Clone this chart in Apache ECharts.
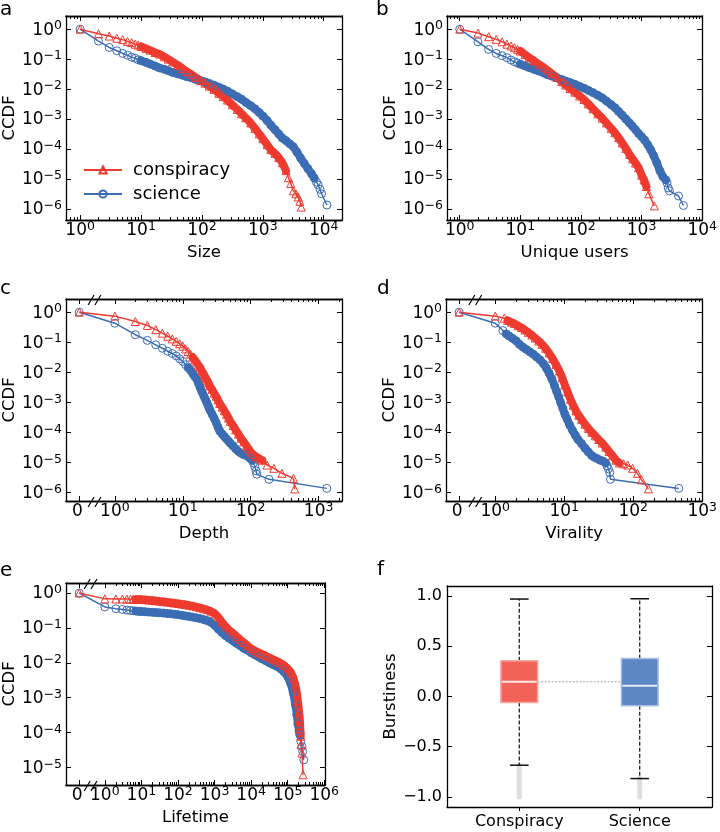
<!DOCTYPE html>
<html><head><meta charset="utf-8">
<script src="https://cdn.jsdelivr.net/npm/echarts@6/dist/echarts.min.js"></script>
<style>html,body{margin:0;padding:0;background:#fff}#c{width:720px;height:832px}</style>
</head><body><div id="c"></div>
<script>
// ---------- data (value, CCDF) ----------
const sizeConspiracy = [[1,1],[2,0.70],[3,0.59],[4,0.50],[5,0.447],[6,0.39],[7,0.355],[8,0.316],[9,0.295],[10,0.265],[12,0.229],[14,0.20],[17,0.166],[20,0.148],[24,0.12],[28,0.10],[33,0.081],[40,0.063],[48,0.049],[56,0.039],[66,0.0316],[79,0.0245],[95,0.0195],[112,0.0158],[132,0.0126],[158,0.0098],[190,0.0072],[224,0.0056],[263,0.0043],[316,0.0030],[380,0.0021],[447,0.0015],[525,0.0011],[631,7.4e-4],[741,4.9e-4],[871,3.2e-4],[1000,2.2e-4],[1175,1.4e-4],[1350,9.5e-5],[1585,7.1e-5],[1820,5.2e-5],[2090,3.5e-5],[2400,1.9e-5],[2630,1.1e-5],[2880,7.1e-6],[3160,4.0e-6],[3470,3.2e-6],[3800,2.5e-6],[4070,1.8e-6],[4270,1.15e-6]];
const sizeScience = [[1,1],[2,0.40],[3,0.245],[4,0.19],[5,0.155],[6,0.135],[7,0.117],[8,0.107],[9,0.095],[10,0.089],[12,0.078],[14,0.069],[17,0.059],[20,0.051],[24,0.046],[28,0.041],[33,0.036],[40,0.032],[48,0.029],[56,0.026],[66,0.024],[79,0.021],[95,0.019],[112,0.0174],[132,0.0155],[158,0.0135],[190,0.0115],[224,0.010],[263,0.0085],[316,0.0069],[380,0.0056],[447,0.0046],[525,0.0036],[631,0.0028],[741,0.0022],[871,0.00166],[1000,0.00126],[1175,8.9e-4],[1350,6.3e-4],[1585,4.4e-4],[1820,3.2e-4],[2090,2.3e-4],[2400,1.9e-4],[2750,1.5e-4],[3160,1.2e-4],[3630,7.9e-5],[4170,5.0e-5],[4790,3.3e-5],[5500,2.2e-5],[6300,1.5e-5],[7000,1.07e-5],[7600,7.9e-6],[8100,6.3e-6],[8700,4.5e-6],[9200,3.2e-6],[11300,1.35e-6]];
const usersConspiracy = [[1,1],[2,0.74],[3,0.56],[4,0.457],[5,0.38],[6,0.316],[7,0.275],[8,0.24],[9,0.211],[10,0.186],[12,0.141],[14,0.112],[17,0.087],[20,0.069],[24,0.054],[28,0.043],[33,0.033],[40,0.0245],[48,0.0178],[56,0.0138],[66,0.0105],[79,0.0079],[95,0.0059],[112,0.0045],[132,0.0032],[158,0.0022],[190,0.0015],[224,0.00107],[263,7.4e-4],[316,4.9e-4],[363,3.5e-4],[417,2.4e-4],[479,1.6e-4],[550,1.05e-4],[631,6.6e-5],[708,4.7e-5],[794,3.4e-5],[891,2.4e-5],[1000,1.35e-5],[1096,9.3e-6],[1202,5.6e-6],[1318,3.2e-6],[1622,1.26e-6]];
const usersScience = [[1,1],[2,0.38],[3,0.211],[4,0.155],[5,0.13],[6,0.112],[7,0.093],[8,0.082],[9,0.074],[10,0.068],[12,0.059],[14,0.052],[17,0.045],[20,0.040],[24,0.035],[28,0.030],[33,0.027],[40,0.024],[48,0.021],[56,0.0186],[66,0.0166],[79,0.0145],[95,0.0123],[112,0.0107],[132,0.0091],[158,0.0076],[190,0.0062],[224,0.0051],[263,0.0040],[316,0.0030],[363,0.0024],[417,0.0018],[479,0.00135],[550,0.0010],[631,7.4e-4],[708,5.75e-4],[794,4.4e-4],[891,3.3e-4],[1000,2.6e-4],[1120,2.0e-4],[1260,1.4e-4],[1410,9.5e-5],[1585,6.0e-5],[1780,3.5e-5],[2000,1.9e-5],[2240,1.2e-5],[2510,9.3e-6],[2630,7.4e-6],[2750,5.0e-6],[2880,4.0e-6],[4070,2.7e-6],[4900,1.3e-6]];
const depthConspiracy = [[0,1],[1,0.74],[2,0.49],[3,0.363],[4,0.263],[5,0.20],[6,0.158],[7,0.129],[8,0.107],[9,0.089],[10,0.074],[11,0.060],[12,0.049],[13,0.040],[14,0.032],[15,0.026],[16,0.0224],[17,0.0174],[18,0.0145],[19,0.0112],[20,0.0093],[21,0.0076],[22,0.0063],[23,0.0052],[24,0.0044],[25,0.0035],[27,0.0027],[29,0.0020],[31,0.00158],[33,0.0012],[35,9.1e-4],[38,6.9e-4],[41,5.2e-4],[44,4.0e-4],[47,3.0e-4],[50,2.3e-4],[55,1.66e-4],[60,1.2e-4],[66,8.7e-5],[72,6.3e-5],[79,4.8e-5],[87,3.5e-5],[93,2.8e-5],[100,2.2e-5],[110,1.8e-5],[120,1.55e-5],[132,1.35e-5],[148,1.17e-5],[174,8.1e-6],[219,6.3e-6],[288,4.3e-6],[427,2.9e-6],[445,1.3e-6]];
const depthScience = [[0,1],[1,0.43],[2,0.178],[3,0.115],[4,0.082],[5,0.063],[6,0.050],[7,0.042],[8,0.035],[9,0.028],[10,0.023],[11,0.0178],[12,0.0141],[13,0.0117],[14,0.0091],[15,0.0072],[16,0.006],[17,0.0043],[18,0.0031],[19,0.0023],[20,0.0018],[21,0.0014],[22,0.00112],[23,8.9e-4],[24,7.1e-4],[25,5.6e-4],[27,4.0e-4],[29,2.9e-4],[31,2.1e-4],[33,1.48e-4],[35,1.1e-4],[38,8.7e-5],[41,7.2e-5],[44,6.0e-5],[47,5.1e-5],[50,4.3e-5],[55,3.5e-5],[60,2.8e-5],[66,2.3e-5],[72,2.0e-5],[79,1.8e-5],[87,1.66e-5],[93,1.5e-5],[100,1.3e-5],[105,1.17e-5],[110,9.5e-6],[115,7.1e-6],[120,5.2e-6],[123,4.0e-6],[186,2.7e-6],[1318,1.35e-6]];
const viralityConspiracy = [[0,1],[1,0.74],[1.35,0.63],[1.51,0.537],[1.70,0.468],[1.91,0.417],[2.14,0.355],[2.40,0.309],[2.69,0.257],[3.02,0.214],[3.39,0.174],[3.80,0.138],[4.27,0.11],[4.79,0.085],[5.37,0.063],[6.03,0.0437],[6.76,0.0288],[7.59,0.0182],[8.51,0.011],[9.33,0.0066],[10.2,0.0038],[11.2,0.0022],[12.3,0.00126],[13.5,7.9e-4],[14.8,5.2e-4],[16.2,3.7e-4],[17.8,2.7e-4],[20.0,1.86e-4],[22.4,1.35e-4],[25.1,1.0e-4],[28.2,7.6e-5],[31.6,5.75e-5],[35.5,4.4e-5],[39.8,3.2e-5],[44.7,2.3e-5],[50.1,1.66e-5],[56.2,1.17e-5],[63.1,9.5e-6],[72.4,8.9e-6],[83.2,8.1e-6],[97.7,6.3e-6],[115,4.3e-6],[132,2.6e-6],[166,1.3e-6]];
const viralityScience = [[0,1],[1,0.43],[1.29,0.245],[1.44,0.19],[1.58,0.162],[1.78,0.135],[2.0,0.112],[2.24,0.085],[2.51,0.069],[2.82,0.0575],[3.16,0.048],[3.55,0.040],[3.98,0.032],[4.47,0.0257],[5.01,0.019],[5.50,0.0138],[6.03,0.0093],[6.61,0.006],[7.24,0.0035],[7.76,0.0023],[8.32,0.0015],[8.91,9.5e-4],[9.55,6.2e-4],[10.2,4.0e-4],[11.0,2.75e-4],[12.0,1.74e-4],[13.2,1.15e-4],[14.5,7.9e-5],[15.8,5.75e-5],[17.8,4.2e-5],[20.0,2.95e-5],[22.4,2.2e-5],[25.1,1.66e-5],[27.5,1.45e-5],[30.2,1.32e-5],[33.1,1.17e-5],[36.3,1.1e-5],[39.8,9.5e-6],[41.7,7.6e-6],[43.7,6.0e-6],[45.7,4.5e-6],[46.8,2.7e-6],[457,1.35e-6]];
const lifetimeConspiracy = [[0,1],[1,0.68],[2,0.675],[3,0.672],[4,0.67],[5,0.668],[6,0.667],[7,0.665],[8,0.664],[9,0.662],[10,0.66],[12.6,0.646],[15.8,0.63],[20,0.617],[25.1,0.60],[31.6,0.586],[39.8,0.57],[50.1,0.553],[63.1,0.537],[79.4,0.519],[100,0.50],[126,0.484],[158,0.468],[200,0.447],[251,0.427],[316,0.403],[398,0.38],[501,0.355],[631,0.331],[794,0.302],[1000,0.263],[1259,0.204],[1585,0.148],[1995,0.11],[2512,0.087],[3162,0.071],[3981,0.0575],[5012,0.0468],[6310,0.038],[7943,0.031],[10000,0.0257],[12590,0.0224],[15850,0.020],[19950,0.0178],[25120,0.0158],[31620,0.0141],[39810,0.0126],[50120,0.0112],[63100,0.010],[79430,0.0085],[100000,0.0068],[120200,0.0055],[141300,0.0038],[162200,0.00234],[177800,0.0014],[190500,7.9e-4],[204200,4.0e-4],[213800,2.5e-4],[221300,1.26e-4],[226500,7.9e-5],[231700,4.5e-5],[245500,2.6e-5],[263000,6.2e-6]];
const lifetimeScience = [[0,1],[1,0.40],[2,0.355],[3,0.339],[4,0.324],[5,0.316],[6,0.31],[7,0.305],[8,0.301],[9,0.298],[10,0.295],[12.6,0.29],[15.8,0.285],[20,0.28],[25.1,0.275],[31.6,0.271],[39.8,0.266],[50.1,0.26],[63.1,0.254],[79.4,0.247],[100,0.24],[126,0.231],[158,0.221],[200,0.213],[251,0.204],[316,0.195],[398,0.186],[501,0.174],[631,0.162],[794,0.145],[1000,0.12],[1259,0.093],[1585,0.074],[1995,0.060],[2512,0.050],[3162,0.043],[3981,0.036],[5012,0.031],[6310,0.026],[7943,0.023],[10000,0.0195],[12590,0.017],[15850,0.0148],[19950,0.0129],[25120,0.0115],[31620,0.010],[39810,0.0089],[50120,0.0079],[63100,0.0068],[79430,0.0055],[100000,0.0040],[120200,0.0026],[141300,0.0014],[162200,6.3e-4],[177800,3.2e-4],[190500,1.8e-4],[204200,1.12e-4],[213800,8.7e-5],[229100,5.6e-5],[245500,4.0e-5],[257000,2.9e-5],[275400,1.66e-5]];

// box plot (burstiness)
const boxCategories = ['Conspiracy', 'Science'];
const boxLowerWhisker = [-0.684, -0.817];
const boxQ1 = [-0.06, -0.093];
const boxMedian = [0.146, 0.106];
const boxQ3 = [0.355, 0.379];
const boxUpperWhisker = [0.97, 0.973];
const boxOutlierMin = [-1.0, -1.0];

// tick labels
const ticksSize = [1, 10, 100, 1000, 10000];
const ticksBroken3 = [0, 1, 10, 100, 1000];
const ticksLifetime = [0, 1, 10, 100, 1000, 10000, 100000, 1000000];
const ticksCCDF6 = [1e-6, 1e-5, 1e-4, 1e-3, 1e-2, 1e-1, 1];
const ticksCCDF5 = [1e-5, 1e-4, 1e-3, 1e-2, 1e-1, 1];
const ticksBurst = [-1, -0.5, 0, 0.5, 1];

// ---------- styling / layout ----------
const RED = '#ee3a2f', BLUE = '#3b6db5';
const FONT = 'DejaVu Sans';
const BOX_FILL = ['#f2645a', '#5d88c4'];
const BOX_EDGE = ['#f7a8a2', '#a9c0e0'];
const BOX_W = 0.305, CAP_W = 0.155;

// band = x-range where markers overlap into a solid band (style)
const panels = [
  {grid:[64,16,278,204], xr:[-0.233,4.30], yr:[-6.37,0.44], xTicks:ticksSize, yTicks:ticksCCDF6, zero:null, xName:'Size', red:sizeConspiracy, blue:sizeScience, redBand:[10,2400], blueBand:[10,7000]},
  {grid:[447,16,259,204], xr:[-0.21,4.0], yr:[-6.37,0.44], xTicks:ticksSize, yTicks:ticksCCDF6, zero:null, xName:'Unique users', red:usersConspiracy, blue:usersScience, redBand:[10,1202], blueBand:[10,2510]},
  {grid:[65,299,277,202], xr:[-0.72,3.344], yr:[-6.29,0.44], xTicks:ticksBroken3, yTicks:ticksCCDF6, zero:-0.524, brk:-0.30, xName:'Depth', red:depthConspiracy, blue:depthScience, redBand:[14,148], blueBand:[12,105]},
  {grid:[446,299,260,202], xr:[-0.714,3.0], yr:[-6.29,0.44], xTicks:ticksBroken3, yTicks:ticksCCDF6, zero:-0.524, brk:-0.29, xName:'Virality', red:viralityConspiracy, blue:viralityScience, redBand:[1.51,63.1], blueBand:[1.44,39.8]},
  {grid:[65,583,260,202], xr:[-1.063,6.02], yr:[-5.50,0.287], xTicks:ticksLifetime, yTicks:ticksCCDF5, zero:-0.70, brk:-0.39, xName:'Lifetime', red:lifetimeConspiracy, blue:lifetimeScience, redBand:[7,226500], blueBand:[7,213800]}
];

const RICH = {
  b: {fontSize:17, fontFamily:FONT, color:'#000', lineHeight:19, verticalAlign:'bottom'},
  s: {fontSize:12.5, fontFamily:FONT, color:'#000', lineHeight:13, verticalAlign:'top', padding:[0,0,9,0]}
};
function powLabel(v) {
  const n = Math.round(v);
  const e = n < 0 ? '\u2212' + (-n) : '' + n;
  return '{b|10}{s|' + e + '}';
}
function minorTicks(min, max, startDecade) {
  const out = [];
  for (let d = Math.floor(min); d <= Math.ceil(max); d++) {
    if (d < startDecade) continue;
    for (let k = 2; k <= 9; k++) { const v = d + Math.log10(k); if (v > min && v < max) out.push(v); }
  }
  return out;
}
const axisLineStyle = {show:true, onZero:false, lineStyle:{color:'#000', width:1.3}};
const nameStyle = {fontSize:16.5, fontFamily:FONT, color:'#000'};

const grids = [], xAxes = [], yAxes = [], series = [], titles = [], graphics = [];

panels.forEach((p, i) => {
  grids.push({left:p.grid[0], top:p.grid[1], width:p.grid[2], height:p.grid[3], show:false});
  const toX = v => (v === 0 ? p.zero : Math.log10(v));
  const xMaj = p.xTicks.map(toX);
  const xMin = minorTicks(p.xr[0], p.xr[1], p.zero === null ? -99 : 0);
  const yMaj = p.yTicks.map(v => Math.log10(v));
  const mkX = (pos, vals, len, labels) => ({
    type:'value', gridIndex:i, position:pos, min:p.xr[0], max:p.xr[1],
    axisLine:axisLineStyle, splitLine:{show:false},
    axisTick:{show:true, inside:true, length:len, customValues:vals, lineStyle:{color:'#000', width:1}},
    axisLabel: labels ? {show:true, customValues:xMaj, margin:0, rich:RICH,
      formatter: v => (p.zero !== null && Math.abs(v - p.zero) < 1e-9) ? '{b|0}{s| }' : powLabel(v)} : {show:false},
    name: labels ? p.xName : '', nameLocation:'middle', nameGap:24, nameTextStyle:nameStyle
  });
  xAxes.push(mkX('bottom', xMaj, 5, true));
  xAxes.push(mkX('bottom', xMin, 3, false));
  xAxes.push(mkX('top', xMaj, 5, false));
  xAxes.push(mkX('top', xMin, 3, false));
  const mkY = (pos, labels) => ({
    type:'value', gridIndex:i, position:pos, min:p.yr[0], max:p.yr[1],
    axisLine:axisLineStyle, splitLine:{show:false},
    axisTick:{show:true, inside:true, length:5, customValues:yMaj, lineStyle:{color:'#000', width:1}},
    axisLabel: labels ? {show:true, customValues:yMaj, margin:4, rich:RICH, formatter: v => powLabel(v)} : {show:false},
    name: labels ? 'CCDF' : '', nameLocation:'middle', nameGap:32, nameRotate:90, nameTextStyle:nameStyle
  });
  yAxes.push(mkY('left', true));
  yAxes.push(mkY('right', false));
  const conv = d => [toX(d[0]), Math.log10(d[1])];
  const mkBand = (data, color, band) => ({
    type:'line', xAxisIndex:4*i, yAxisIndex:2*i, symbol:'none', silent:true, animation:false, clip:true,
    data: data.filter(d => d[0] >= band[0] && d[0] <= band[1]).map(conv),
    lineStyle:{color, width:8, cap:'round', join:'round'}
  });
  const mkS = (name, data, color, symbol) => ({
    type:'line', name, xAxisIndex:4*i, yAxisIndex:2*i,
    data: data.map(conv),
    symbol, symbolSize:8, showSymbol:true, showAllSymbol:true,
    lineStyle:{color, width:1.5},
    itemStyle:{color:'rgba(255,255,255,0)', borderColor:color, borderWidth:1},
    emphasis:{disabled:true}, silent:true, animation:false, clip:true
  });
  series.push(mkBand(p.blue, BLUE, p.blueBand));
  series.push(mkS('science', p.blue, BLUE, 'circle'));
  series.push(mkBand(p.red, RED, p.redBand));
  series.push(mkS('conspiracy', p.red, RED, 'triangle'));
});

// panel f (box plot)
const fi = panels.length;
grids.push({left:447, top:586, width:265, height:221, show:false});
const fx = {type:'value', gridIndex:fi, min:0.4, max:2.6, axisLine:axisLineStyle, splitLine:{show:false}};
xAxes.push(Object.assign({}, fx, {position:'bottom',
  axisTick:{show:true, inside:false, length:4, customValues:[1,2], lineStyle:{color:'#000', width:1}},
  axisLabel:{show:true, customValues:[1,2], margin:7, fontSize:16, fontFamily:FONT, color:'#000', formatter: v => boxCategories[Math.round(v) - 1]}}));
xAxes.push(Object.assign({}, fx, {position:'top', axisTick:{show:false}, axisLabel:{show:false}}));
const fy = {type:'value', gridIndex:fi, min:-1.1, max:1.1, axisLine:axisLineStyle, splitLine:{show:false}};
yAxes.push(Object.assign({}, fy, {position:'left',
  axisTick:{show:true, inside:true, length:5, customValues:ticksBurst, lineStyle:{color:'#000', width:1}},
  axisLabel:{show:true, customValues:ticksBurst, margin:5, fontSize:16, fontFamily:FONT, color:'#000', formatter: v => v.toFixed(1).replace('-', '\u2212')},
  name:'Burstiness', nameLocation:'middle', nameGap:41, nameRotate:90, nameTextStyle:nameStyle}));
yAxes.push(Object.assign({}, fy, {position:'right',
  axisTick:{show:true, inside:true, length:5, customValues:ticksBurst, lineStyle:{color:'#000', width:1}}, axisLabel:{show:false}}));

const fxIdx = xAxes.length - 2, fyIdx = yAxes.length - 2;
series.push({
  type:'line', xAxisIndex:fxIdx, yAxisIndex:fyIdx, symbol:'none', silent:true, animation:false,
  data:[[1 + BOX_W/2, boxMedian[0]], [2 - BOX_W/2, boxMedian[0]]],
  lineStyle:{color:'#a0a0a0', width:1, type:[2,1.5]}, z:1
});
series.push({
  type:'custom', xAxisIndex:fxIdx, yAxisIndex:fyIdx, silent:true, animation:false, z:2,
  data: boxCategories.map((c, k) => [k + 1, boxLowerWhisker[k], boxQ1[k], boxMedian[k], boxQ3[k], boxUpperWhisker[k], boxOutlierMin[k]]),
  renderItem: function (params, api) {
    const k = params.dataIndex;
    const x = api.value(0);
    const c = (v, dx) => api.coord([x + (dx || 0), v]);
    const pLo = c(api.value(1)), pQ1 = c(api.value(2)), pMed = c(api.value(3)), pQ3 = c(api.value(4)), pHi = c(api.value(5)), pOm = c(api.value(6));
    const left = c(0, -BOX_W/2)[0], right = c(0, BOX_W/2)[0];
    const cl = c(0, -CAP_W/2)[0], cr = c(0, CAP_W/2)[0];
    const dash = {stroke:'#111', lineWidth:1.2, lineDash:[4,2]};
    const solid = {stroke:'#111', lineWidth:1.5};
    return {type:'group', children:[
      {type:'line', shape:{x1:pLo[0], y1:pLo[1], x2:pOm[0], y2:pOm[1]}, style:{stroke:'#dedede', lineWidth:5, lineCap:'round'}},
      {type:'line', shape:{x1:pQ1[0], y1:pQ1[1], x2:pLo[0], y2:pLo[1]}, style:dash},
      {type:'line', shape:{x1:pQ3[0], y1:pQ3[1], x2:pHi[0], y2:pHi[1]}, style:dash},
      {type:'line', shape:{x1:cl, y1:pLo[1], x2:cr, y2:pLo[1]}, style:solid},
      {type:'line', shape:{x1:cl, y1:pHi[1], x2:cr, y2:pHi[1]}, style:solid},
      {type:'rect', shape:{x:left, y:pQ3[1], width:right - left, height:pQ1[1] - pQ3[1]}, style:{fill:BOX_FILL[k], stroke:BOX_EDGE[k], lineWidth:1.5}},
      {type:'line', shape:{x1:left + 1, y1:pMed[1], x2:right - 1, y2:pMed[1]}, style:{stroke:'rgba(255,255,255,0.85)', lineWidth:2}}
    ]};
  }
});

// panel letters
const letterStyle = {fontSize:20, fontWeight:'normal', fontFamily:FONT, color:'#000'};
[['a',0,0],['b',376,0],['c',0,279],['d',377,279],['e',0,561],['f',377,560]].forEach(t => {
  titles.push({text:t[0], left:t[1], top:t[2], padding:0, textStyle:letterStyle});
});

const chart = echarts.init(document.getElementById('c'), null, {renderer:'canvas', width:720, height:832});
chart.setOption({
  animation:false,
  backgroundColor:'#fff',
  title:titles,
  grid:grids, xAxis:xAxes, yAxis:yAxes, series:series,
  legend:{data:['conspiracy','science'], orient:'vertical', left:78, top:156, itemWidth:38, itemHeight:9, itemGap:6,
    selectedMode:false, textStyle:{fontSize:18, fontFamily:FONT, color:'#000', padding:[0,0,0,6]}}
});

// axis-break marks
panels.forEach((p, i) => {
  if (p.zero === null) return;
  [p.yr[0], p.yr[1]].forEach(yv => {
    const pt = chart.convertToPixel({xAxisIndex:4*i, yAxisIndex:2*i}, [p.brk, yv]);
    [-3.4, 3.4].forEach(off => {
      graphics.push({type:'line', silent:true, z:100,
        shape:{x1:pt[0] + off - 3, y1:pt[1] + 6, x2:pt[0] + off + 3, y2:pt[1] - 4},
        style:{stroke:'#000', lineWidth:1.2}});
    });
  });
});
chart.setOption({graphic:graphics});
</script>
</body></html>
